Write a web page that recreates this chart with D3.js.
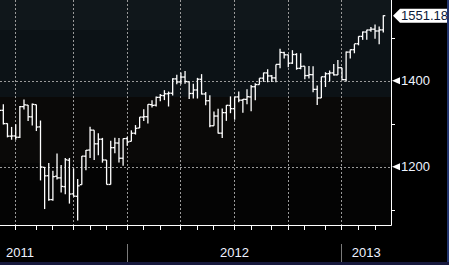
<!DOCTYPE html>
<html>
<head>
<meta charset="utf-8">
<script src="https://cdn.jsdelivr.net/npm/d3@7"></script>
<style>
  body { margin: 0; background: #000; overflow: hidden; }
  text { font-family: "Liberation Sans", Arial, sans-serif; }
</style>
</head>
<body>
<svg id="chart" width="449" height="265"></svg>
<script>
// weekly bars, friday dates
var weeks = d3.timeFriday.range(new Date(2011, 4, 27), new Date(2013, 2, 9));

var opens = [1333.1, 1331.1, 1300.3, 1271.0, 1271.5, 1268.4, 1339.6, 1343.3, 1315.9, 1344.3,
    1292.6, 1198.5, 1179.0, 1123.5, 1177.9, 1174.0, 1153.5, 1215.0, 1136.9, 1131.2,
    1158.2, 1224.5, 1238.7, 1285.0, 1253.2, 1263.9, 1215.6, 1158.7, 1244.3, 1255.0,
    1219.7, 1265.4, 1258.9, 1277.8, 1290.0, 1315.3, 1316.2, 1344.3, 1343.0, 1361.2,
    1365.2, 1369.6, 1370.8, 1404.2, 1397.1, 1408.5, 1397.5, 1370.3, 1378.5, 1403.3,
    1369.1, 1353.4, 1295.2, 1317.8, 1278.0, 1325.7, 1342.4, 1334.9, 1362.3, 1354.7,
    1356.5, 1362.3, 1386.0, 1391.0, 1405.9, 1418.1, 1411.1, 1406.5, 1438.0, 1465.4,
    1460.2, 1440.9, 1461.0, 1428.8, 1433.7, 1412.0, 1414.0, 1379.9, 1359.9, 1409.1,
    1416.3, 1418.1, 1413.5, 1430.1, 1402.4, 1466.5, 1472.1, 1486.0, 1503.0, 1513.2,
    1517.9, 1519.8, 1515.6, 1518.2];
var highs = [1346.5, 1345.2, 1300.8, 1292.5, 1298.6, 1341.0, 1356.5, 1343.3, 1347.0, 1344.3,
    1307.4, 1199.0, 1208.5, 1190.7, 1230.7, 1204.2, 1220.1, 1220.4, 1195.9, 1171.4,
    1224.6, 1239.0, 1292.7, 1285.0, 1277.6, 1267.0, 1215.6, 1260.1, 1267.1, 1266.7,
    1265.4, 1269.4, 1284.6, 1296.8, 1315.5, 1333.5, 1345.3, 1354.3, 1363.4, 1368.9,
    1378.0, 1374.8, 1405.9, 1414.0, 1419.2, 1422.4, 1397.5, 1392.8, 1406.6, 1415.3,
    1373.9, 1365.9, 1328.5, 1334.9, 1335.5, 1343.3, 1363.5, 1362.2, 1374.8, 1357.6,
    1380.4, 1390.0, 1394.2, 1405.9, 1418.7, 1426.7, 1413.5, 1437.9, 1474.5, 1467.1,
    1460.7, 1471.0, 1464.0, 1464.0, 1433.7, 1434.3, 1433.4, 1388.8, 1409.2, 1419.7,
    1423.7, 1438.6, 1448.0, 1430.2, 1467.9, 1472.8, 1485.2, 1503.3, 1514.4, 1518.3,
    1524.7, 1530.9, 1525.8, 1552.5];
var lows = [1311.8, 1297.9, 1268.2, 1262.7, 1262.9, 1267.0, 1333.2, 1306.5, 1295.9, 1282.9,
    1168.1, 1101.5, 1121.0, 1121.1, 1170.4, 1140.1, 1136.1, 1114.2, 1131.1, 1074.8,
    1158.2, 1191.5, 1220.0, 1215.4, 1226.6, 1209.4, 1158.7, 1158.7, 1231.5, 1209.5,
    1202.4, 1248.6, 1258.9, 1274.7, 1290.0, 1306.1, 1300.5, 1337.5, 1340.0, 1352.3,
    1354.9, 1340.0, 1365.4, 1391.6, 1391.7, 1392.9, 1357.4, 1358.8, 1358.6, 1368.0,
    1343.1, 1292.0, 1295.2, 1277.2, 1266.7, 1306.6, 1324.4, 1309.3, 1350.0, 1325.4,
    1345.0, 1329.2, 1354.7, 1391.0, 1397.3, 1396.6, 1397.0, 1396.5, 1429.1, 1451.6,
    1431.0, 1439.0, 1425.5, 1426.9, 1403.3, 1405.0, 1373.0, 1343.4, 1359.9, 1385.4,
    1398.1, 1411.9, 1413.5, 1401.6, 1398.1, 1451.6, 1463.8, 1482.3, 1495.0, 1495.4,
    1513.6, 1497.3, 1485.0, 1512.3];
var closes = [1331.1, 1300.2, 1271.0, 1271.5, 1268.5, 1339.7, 1343.8, 1316.1, 1345.0, 1292.3,
    1199.4, 1178.8, 1123.5, 1176.8, 1174.0, 1154.2, 1216.0, 1136.4, 1131.4, 1155.5,
    1224.6, 1238.3, 1285.1, 1253.2, 1263.9, 1215.7, 1158.7, 1244.3, 1255.2, 1219.7,
    1265.3, 1257.6, 1277.8, 1289.1, 1315.4, 1316.3, 1344.9, 1342.6, 1361.2, 1365.7,
    1369.6, 1370.9, 1404.2, 1397.1, 1408.5, 1398.1, 1370.3, 1378.5, 1403.4, 1369.1,
    1353.4, 1295.2, 1317.8, 1278.0, 1325.7, 1342.8, 1335.0, 1362.2, 1354.7, 1356.8,
    1362.7, 1386.0, 1391.0, 1405.9, 1418.2, 1411.1, 1406.6, 1437.9, 1465.8, 1460.2,
    1440.7, 1460.9, 1428.6, 1433.2, 1411.9, 1414.2, 1379.9, 1359.9, 1409.2, 1416.2,
    1418.1, 1413.6, 1430.2, 1402.4, 1466.5, 1472.1, 1486.0, 1503.0, 1513.2, 1517.9,
    1519.8, 1515.6, 1518.2, 1551.18];

var yLabels = [1200, 1400];
var yMinor = [1100, 1300, 1500];
var years = ["2011", "2012", "2013"];

var svg = d3.select("#chart");
var W = 391, H = 226;
var n = weeks.length;

var x = d3.scalePoint().domain(d3.range(n)).range([-0.8, 383.3]);
var y = d3.scaleLinear().domain([1200, 1400]).range([166.7, 80.7]);

// background bands
var bands = [[0, 30, "#10171b"], [30, 97, "#0c1216"], [97, 163, "#0a0908"], [163, H, "#040404"]];
svg.selectAll(".band").data(bands).enter().append("rect")
    .attr("x", 0).attr("y", function (d) { return d[0]; })
    .attr("width", W).attr("height", function (d) { return d[1] - d[0]; })
    .attr("fill", function (d) { return d[2]; });

// month boundaries = last bar of each month
var monthEnds = d3.range(n - 1).filter(function (i) {
    return weeks[i + 1].getMonth() != weeks[i].getMonth();
});
var quarterEnds = monthEnds.filter(function (i) { return weeks[i + 1].getMonth() % 3 == 0; });
var yearEnds = monthEnds.filter(function (i) { return weeks[i + 1].getMonth() == 0; });
function tx(i) { return Math.round(x(i) - 0.5) + 0.5; }

// grid
svg.selectAll(".vgrid").data(quarterEnds).enter().append("line")
    .attr("x1", tx).attr("x2", tx).attr("y1", 0).attr("y2", H)
    .attr("stroke", "#9a9a9a").attr("stroke-dasharray", "2,2");
svg.selectAll(".hgrid").data(yLabels).enter().append("line")
    .attr("x1", 0).attr("x2", W)
    .attr("y1", function (d) { return Math.round(y(d)) + 0.5; })
    .attr("y2", function (d) { return Math.round(y(d)) + 0.5; })
    .attr("stroke", "#9a9a9a").attr("stroke-dasharray", "2,2");

// ohlc bars
svg.append("clipPath").attr("id", "clip").append("rect")
    .attr("width", W).attr("height", H);
var bars = svg.append("g").attr("clip-path", "url(#clip)")
    .attr("stroke", "#fff").attr("stroke-width", 1.3);
var idx = d3.range(n);
bars.selectAll(".hl").data(idx).enter().append("line")
    .attr("x1", function (i) { return x(i); }).attr("x2", function (i) { return x(i); })
    .attr("y1", function (i) { return y(highs[i]); }).attr("y2", function (i) { return y(lows[i]); });
bars.selectAll(".op").data(idx).enter().append("line")
    .attr("x1", function (i) { return x(i) - 2; }).attr("x2", function (i) { return x(i); })
    .attr("y1", function (i) { return y(opens[i]); }).attr("y2", function (i) { return y(opens[i]); });
bars.selectAll(".cl").data(idx).enter().append("line")
    .attr("x1", function (i) { return x(i); }).attr("x2", function (i) { return x(i) + 2; })
    .attr("y1", function (i) { return y(closes[i]); }).attr("y2", function (i) { return y(closes[i]); });

// frame
svg.append("path").attr("d", "M0," + (H - 0.5) + "H" + (W + 0.5) + "V0")
    .attr("fill", "none").attr("stroke", "#fff");

// x ticks
svg.selectAll(".xt").data(monthEnds.filter(function (i) { return x(i) > 0; })).enter().append("line")
    .attr("x1", tx).attr("x2", tx).attr("y1", H).attr("y2", H + 4)
    .attr("stroke", "#fff");

// year separators + labels
svg.selectAll(".ysep").data(yearEnds).enter().append("line")
    .attr("x1", tx).attr("x2", tx).attr("y1", 244).attr("y2", 263)
    .attr("stroke", "#7a7a7a");
var yearX = [6].concat(yearEnds.map(function (i, k) {
    var a = tx(i), b = k + 1 < yearEnds.length ? tx(yearEnds[k + 1]) : W;
    return (a + b) / 2;
}));
svg.selectAll(".yl").data(years).enter().append("text")
    .attr("x", function (d, k) { return yearX[k]; })
    .attr("y", 256.5)
    .attr("text-anchor", function (d, k) { return k == 0 ? "start" : "middle"; })
    .attr("font-size", "13px").attr("fill", "#eef3ff")
    .text(function (d) { return d; });

// right axis
svg.selectAll(".ym").data(yMinor).enter().append("line")
    .attr("x1", W).attr("x2", W + 4)
    .attr("y1", function (d) { return Math.round(y(d)) + 0.5; })
    .attr("y2", function (d) { return Math.round(y(d)) + 0.5; })
    .attr("stroke", "#fff");
svg.selectAll(".ytri").data(yLabels).enter().append("path")
    .attr("d", function (d) {
        var v = y(d);
        return "M" + (W + 1) + "," + v + "L" + (W + 9) + "," + (v - 3.5) + "L" + (W + 9) + "," + (v + 3.5) + "Z";
    })
    .attr("fill", "#fff");
svg.selectAll(".ylab").data(yLabels).enter().append("text")
    .attr("x", W + 10).attr("y", function (d) { return y(d) + 4.6; })
    .attr("font-size", "13px").attr("fill", "#eef3ff")
    .text(function (d) { return d; });

// last price tag
var last = closes[n - 1], ly = y(last);
svg.append("path")
    .attr("d", "M" + (W + 2) + "," + ly + "L" + (W + 9) + "," + (ly - 7) + "H447V" + (ly + 7) + "H" + (W + 9) + "Z")
    .attr("fill", "#fff");
svg.append("text")
    .attr("x", W + 10).attr("y", ly + 4.6)
    .attr("font-size", "13px").attr("fill", "#0c1a3a")
    .text(d3.format(".2f")(last));

// outer blue edge
svg.append("rect").attr("x", 447).attr("y", 0).attr("width", 2).attr("height", 265).attr("fill", "#22356e");
svg.append("rect").attr("x", 0).attr("y", 262).attr("width", 449).attr("height", 3).attr("fill", "#17193d");
</script>
</body>
</html>
